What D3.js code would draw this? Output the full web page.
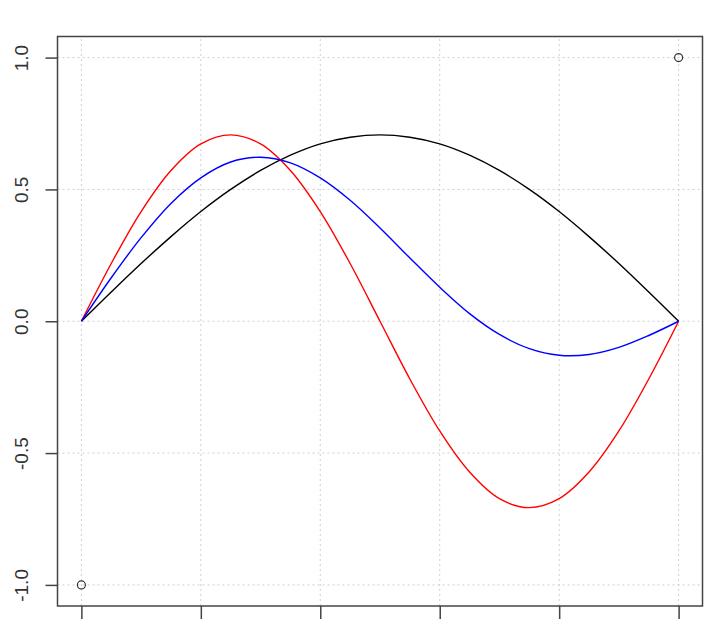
<!DOCTYPE html>
<html>
<head>
<meta charset="utf-8">
<script src="https://cdn.jsdelivr.net/npm/d3@7"></script>
<style>
  html, body { margin: 0; padding: 0; background: #fff; }
  svg { display: block; font-family: "Liberation Sans", Arial, sans-serif; }
</style>
</head>
<body>
<div id="chart"></div>
<script>
// Sample positions along x
const xs = [0, 0.05, 0.1, 0.15, 0.2, 0.25, 0.3, 0.35, 0.4, 0.45, 0.5,
            0.55, 0.6, 0.65, 0.7, 0.75, 0.8, 0.85, 0.9, 0.95, 1];

// Curves
const blackVals = [0, 0.111, 0.219, 0.321, 0.416, 0.5, 0.572, 0.63, 0.673, 0.698, 0.707,
                   0.698, 0.673, 0.63, 0.572, 0.5, 0.416, 0.321, 0.219, 0.111, 0];
const redVals = [0, 0.219, 0.416, 0.572, 0.673, 0.707, 0.673, 0.572, 0.416, 0.219, 0,
                 -0.219, -0.416, -0.572, -0.673, -0.707, -0.673, -0.572, -0.416, -0.219, 0];
const blueVals = [0, 0.165, 0.317, 0.447, 0.544, 0.604, 0.622, 0.601, 0.544, 0.459, 0.354,
                  0.24, 0.129, 0.029, -0.05, -0.104, -0.129, -0.126, -0.099, -0.054, 0];

// The two corner points
const pointX = [0, 1];
const pointY = [-1, 1];

// Axis ticks
const xTicks = [0, 0.2, 0.4, 0.6, 0.8, 1];
const yTicks = [-1, -0.5, 0, 0.5, 1];
const yTickLabels = ["-1.0", "-0.5", "0.0", "0.5", "1.0"];

const width = 717;
const height = 620;

const svg = d3.select("#chart")
    .append("svg")
    .attr("width", width)
    .attr("height", height);

const x = d3.scaleLinear().domain([-0.04, 1.04]).range([57.5, 702.5]);
const y = d3.scaleLinear().domain([-1.08, 1.08]).range([606, 36.5]);

// grid
const grid = svg.append("g")
    .attr("stroke", "#cfcfcf")
    .attr("stroke-width", 1)
    .attr("stroke-dasharray", "2,3");

grid.selectAll("line.v")
    .data(xTicks)
    .enter()
    .append("line")
    .attr("x1", d => x(d)).attr("x2", d => x(d))
    .attr("y1", y.range()[0]).attr("y2", y.range()[1]);

grid.selectAll("line.h")
    .data(yTicks)
    .enter()
    .append("line")
    .attr("y1", d => y(d)).attr("y2", d => y(d))
    .attr("x1", x.range()[0]).attr("x2", x.range()[1]);

// curves
const line = d3.line()
    .x(d => x(d[0]))
    .y(d => y(d[1]))
    .curve(d3.curveCatmullRom.alpha(0.5));

const series = [
    { vals: blackVals, color: "#000000" },
    { vals: redVals, color: "#ff0000" },
    { vals: blueVals, color: "#0000ff" }
];

svg.append("g")
    .selectAll("path")
    .data(series)
    .enter()
    .append("path")
    .attr("d", s => line(xs.map((xv, i) => [xv, s.vals[i]])))
    .attr("fill", "none")
    .attr("stroke", s => s.color)
    .attr("stroke-width", 1.4);

// points
svg.append("g")
    .selectAll("circle")
    .data(pointX)
    .enter()
    .append("circle")
    .attr("cx", d => x(d))
    .attr("cy", (d, i) => y(pointY[i]))
    .attr("r", 4)
    .attr("fill", "none")
    .attr("stroke", "#333")
    .attr("stroke-width", 1.2);

// box
svg.append("rect")
    .attr("x", x.range()[0])
    .attr("y", y.range()[1])
    .attr("width", x.range()[1] - x.range()[0])
    .attr("height", y.range()[0] - y.range()[1])
    .attr("fill", "none")
    .attr("stroke", "#444")
    .attr("stroke-width", 1.5);

// x axis: ticks only, labels fall below the picture
const xAxis = d3.axisBottom(x).tickValues(xTicks).tickSize(13).tickFormat("");
svg.append("g")
    .attr("transform", `translate(0,${y.range()[0]})`)
    .call(xAxis)
    .call(g => g.select(".domain").remove())
    .call(g => g.selectAll("line").attr("stroke", "#444").attr("stroke-width", 1.5));

// y axis
const yAxis = d3.axisLeft(y).tickValues(yTicks).tickSize(12)
    .tickFormat((d, i) => yTickLabels[i]);
const yg = svg.append("g")
    .attr("transform", `translate(${x.range()[0]},0)`)
    .call(yAxis)
    .call(g => g.select(".domain").remove())
    .call(g => g.selectAll("line").attr("stroke", "#444").attr("stroke-width", 1.5));

// rotated labels, baseline at x = 28
yg.selectAll("text")
    .attr("x", 0).attr("y", 0).attr("dy", null)
    .attr("text-anchor", "middle")
    .attr("fill", "#333")
    .style("font-size", "19px")
    .attr("transform", `translate(${28 - x.range()[0]},0) rotate(-90)`);
</script>
</body>
</html>
